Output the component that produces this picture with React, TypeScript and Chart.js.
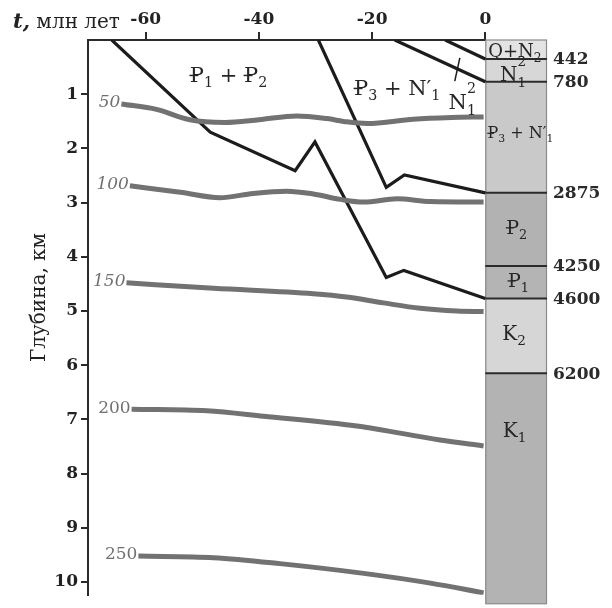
import React, { useEffect, useRef } from 'react';
import { Chart, registerables } from 'chart.js';
Chart.register(...registerables);

// ---- axes ----
const timeTicks = [-60, -40, -20, 0];
const depthTicks = [1, 2, 3, 4, 5, 6, 7, 8, 9, 10];

// ---- burial curves: time (Ma) / depth (km) ----
const burialTimeA = [-66, -48.6, -33.6, -30.1, -17.5, -14.4, 0];
const burialDepthA = [0, 1.7, 2.41, 1.88, 4.38, 4.25, 4.77];
const burialTimeB = [-29.5, -17.5, -14.3, 0];
const burialDepthB = [0, 2.72, 2.49, 2.82];
const burialTimeC = [-16, 0];
const burialDepthC = [0, 0.77];
const burialTimeD = [-7.1, 0];
const burialDepthD = [0, 0.35];
const markTime = [-4.5, -5.4];
const markDepth = [0.33, 0.76];

// ---- isotherms ----
const isoLabels = ['50', '100', '150', '200', '250'];
const iso50Time = [-64.3, -58.1, -52.2, -46, -40, -33.3, -28, -24.5, -20.9, -12.7, -6, -0.3];
const iso50Depth = [1.18, 1.28, 1.47, 1.52, 1.47, 1.4, 1.45, 1.51, 1.54, 1.46, 1.43, 1.42];
const iso100Time = [-62.8, -53.9, -46.9, -41, -35.1, -30.4, -25.6, -21.5, -15.6, -9.7, -0.3];
const iso100Depth = [2.69, 2.81, 2.91, 2.83, 2.79, 2.84, 2.94, 2.99, 2.93, 2.98, 2.99];
const iso150Time = [-63.4, -48, -30.4, -24.5, -18, -11.5, -5, -0.3];
const iso150Depth = [4.48, 4.58, 4.68, 4.74, 4.85, 4.95, 5.0, 5.01];
const iso200Time = [-62.5, -49.2, -39.2, -22.7, -8, -0.3];
const iso200Depth = [6.81, 6.84, 6.94, 7.12, 7.38, 7.49];
const iso250Time = [-61.3, -48, -36.3, -21.5, -9.7, -0.3];
const iso250Depth = [9.52, 9.55, 9.66, 9.84, 10.02, 10.2];

// ---- stratigraphic column ----
const stratTops = [0, 0.35, 0.77, 2.82, 4.17, 4.77, 6.15];
const stratBase = 10.4;
const stratColors = ['#e3e3e3', '#d7d7d7', '#c9c9c9', '#b2b2b2', '#b4b4b4', '#d6d6d6', '#b3b3b3'];
const boundaryLabels = ['442', '780', '2875', '4250', '4600', '6200'];

type Seg = { t: string; k?: 'sub' | 'sup'; bar?: boolean; stack?: boolean };

const plotLabels: { segs: Seg[]; t: number; d: number; size: number }[] = [
  { segs: [{ t: 'P', bar: true }, { t: '1', k: 'sub' }, { t: ' + ' }, { t: 'P', bar: true }, { t: '2', k: 'sub' }], t: -52.2, d: 0.77, size: 21 },
  { segs: [{ t: 'P', bar: true }, { t: '3', k: 'sub' }, { t: ' + N\u2032' }, { t: '1', k: 'sub' }], t: -23.2, d: 1.01, size: 21 },
  { segs: [{ t: 'N' }, { t: '2', k: 'sup', stack: true }, { t: '1', k: 'sub' }], t: -6.5, d: 1.27, size: 21 },
  { segs: [{ t: 'Q+N' }, { t: '2', k: 'sub' }], t: 0.5, d: 0.31, size: 18 },
  { segs: [{ t: 'N' }, { t: '2', k: 'sup', stack: true }, { t: '1', k: 'sub' }], t: 2.6, d: 0.76, size: 20 },
  { segs: [{ t: 'P', bar: true }, { t: '3', k: 'sub' }, { t: ' + N\u2032' }, { t: '1', k: 'sub' }], t: 0.4, d: 1.81, size: 16 },
  { segs: [{ t: 'P', bar: true }, { t: '2', k: 'sub' }], t: 3.7, d: 3.57, size: 19 },
  { segs: [{ t: 'P', bar: true }, { t: '1', k: 'sub' }], t: 4.0, d: 4.55, size: 19 },
  { segs: [{ t: 'K' }, { t: '2', k: 'sub' }], t: 3.0, d: 5.53, size: 20 },
  { segs: [{ t: 'K' }, { t: '1', k: 'sub' }], t: 3.1, d: 7.32, size: 20 },
];

const SERIF = '"DejaVu Serif", serif';

function pts(ts: number[], ds: number[]) {
  return ts.map((t, i) => ({ x: t, y: ds[i] }));
}

function drawRich(ctx: CanvasRenderingContext2D, x: number, y: number, segs: Seg[], size: number, color: string) {
  let cx = x;
  ctx.fillStyle = color;
  ctx.strokeStyle = color;
  ctx.textAlign = 'left';
  ctx.textBaseline = 'alphabetic';
  for (const s of segs) {
    let fs = size;
    let dy = 0;
    if (s.k === 'sub') { fs = size * 0.68; dy = size * 0.27; }
    if (s.k === 'sup') { fs = size * 0.68; dy = -size * 0.75; }
    ctx.font = `${fs}px ${SERIF}`;
    ctx.fillText(s.t, cx, y + dy);
    const w = ctx.measureText(s.t).width;
    if (s.bar) {
      ctx.lineWidth = Math.max(1.2, size * 0.07);
      ctx.beginPath();
      ctx.moveTo(cx - size * 0.02, y - size * 0.3);
      ctx.lineTo(cx + w * 0.6, y - size * 0.3);
      ctx.stroke();
    }
    if (!s.stack) cx += w;
  }
}

const decorPlugin = {
  id: 'decor',
  beforeDatasetsDraw(chart: any) {
    const { ctx, chartArea, scales } = chart;
    const xs = scales.x, ys = scales.y;
    const x0 = xs.getPixelForValue(0);
    const xr = chartArea.right;
    ctx.save();
    for (let i = 0; i < stratTops.length; i++) {
      const yt = ys.getPixelForValue(stratTops[i]);
      const yb = ys.getPixelForValue(i + 1 < stratTops.length ? stratTops[i + 1] : stratBase);
      ctx.fillStyle = stratColors[i];
      ctx.fillRect(x0, yt, xr - x0, yb - yt);
    }
    ctx.strokeStyle = '#8a8a8a';
    ctx.lineWidth = 1.2;
    const ytop = ys.getPixelForValue(0);
    const ybot = ys.getPixelForValue(stratBase);
    ctx.strokeRect(x0 + 0.5, ytop, xr - x0 - 1, ybot - ytop);
    ctx.strokeStyle = '#2b2b2b';
    ctx.lineWidth = 2;
    for (let i = 1; i < stratTops.length; i++) {
      const y = ys.getPixelForValue(stratTops[i]);
      ctx.beginPath();
      ctx.moveTo(x0, y);
      ctx.lineTo(xr, y);
      ctx.stroke();
    }
    ctx.strokeStyle = '#2b2b2b';
    ctx.lineWidth = 2;
    ctx.beginPath();
    ctx.moveTo(chartArea.left - 1, chartArea.top);
    ctx.lineTo(x0, chartArea.top);
    ctx.stroke();
    ctx.restore();
  },
  afterDatasetsDraw(chart: any) {
    const { ctx, chartArea, scales } = chart;
    const xs = scales.x, ys = scales.y;
    ctx.save();
    ctx.fillStyle = '#2a2a2a';
    ctx.font = `bold 17px ${SERIF}`;
    ctx.textAlign = 'left';
    ctx.textBaseline = 'middle';
    boundaryLabels.forEach((lab, i) => {
      ctx.fillText(lab, chartArea.right + 6, ys.getPixelForValue(stratTops[i + 1]) + 1);
    });
    const isoStarts = [
      [iso50Time[0], iso50Depth[0]],
      [iso100Time[0], iso100Depth[0]],
      [iso150Time[0], iso150Depth[0]],
      [iso200Time[0], iso200Depth[0]],
      [iso250Time[0], iso250Depth[0]],
    ];
    ctx.fillStyle = '#707070';
    ctx.textAlign = 'right';
    ctx.textBaseline = 'middle';
    isoLabels.forEach((lab, i) => {
      ctx.font = `${i < 3 ? 'italic ' : ''}17px ${SERIF}`;
      ctx.fillText(lab, xs.getPixelForValue(isoStarts[i][0]) - 1, ys.getPixelForValue(isoStarts[i][1]) - 1);
    });
    plotLabels.forEach((l) => {
      drawRich(ctx, xs.getPixelForValue(l.t), ys.getPixelForValue(l.d), l.segs, l.size, '#262626');
    });
    ctx.fillStyle = '#222';
    ctx.textAlign = 'left';
    ctx.textBaseline = 'alphabetic';
    ctx.font = `italic bold 21px ${SERIF}`;
    ctx.fillText('t,', 13, 28);
    const wt = ctx.measureText('t,').width;
    ctx.font = `20px ${SERIF}`;
    ctx.fillText(' млн лет', 13 + wt, 28);
    ctx.save();
    ctx.translate(40, (chartArea.top + chartArea.bottom) / 2 - 20);
    ctx.rotate(-Math.PI / 2);
    ctx.textAlign = 'center';
    ctx.textBaseline = 'middle';
    ctx.font = `20px ${SERIF}`;
    ctx.fillText('Глубина, км', 0, 0);
    ctx.restore();
    ctx.restore();
  },
};

export default function App() {
  const ref = useRef<HTMLCanvasElement | null>(null);
  useEffect(() => {
    if (!ref.current) return;
    const black = (data: any, w = 3.2) => ({
      data,
      borderColor: '#1c1c1c',
      borderWidth: w,
      pointRadius: 0,
      tension: 0,
      fill: false,
      borderJoinStyle: 'miter' as const,
    });
    const gray = (data: any) => ({
      data,
      borderColor: '#727272',
      borderWidth: 5,
      pointRadius: 0,
      cubicInterpolationMode: 'monotone' as const,
      fill: false,
      borderCapStyle: 'butt' as const,
    });
    const chart = new Chart(ref.current, {
      type: 'line',
      data: {
        datasets: [
          gray(pts(iso50Time, iso50Depth)),
          gray(pts(iso100Time, iso100Depth)),
          gray(pts(iso150Time, iso150Depth)),
          gray(pts(iso200Time, iso200Depth)),
          gray(pts(iso250Time, iso250Depth)),
          black(pts(burialTimeA, burialDepthA)),
          black(pts(burialTimeB, burialDepthB)),
          black(pts(burialTimeC, burialDepthC)),
          black(pts(burialTimeD, burialDepthD)),
          black(pts(markTime, markDepth), 1.5),
        ],
      },
      options: {
        animation: false,
        responsive: false,
        devicePixelRatio: 1,
        layout: { padding: { left: 0, top: 0, right: 65, bottom: 3 } },
        plugins: { legend: { display: false }, tooltip: { enabled: false } },
        scales: {
          x: {
            type: 'linear',
            position: 'top',
            min: -70.2,
            max: 10.9,
            afterBuildTicks: (s: any) => { s.ticks = timeTicks.map((v) => ({ value: v })); },
            afterFit: (s: any) => { s.height = 40; },
            grid: { drawOnChartArea: false, drawTicks: true, tickLength: 8, color: '#2b2b2b', lineWidth: 2 },
            border: { display: false },
            ticks: {
              padding: 2,
              color: '#222',
              font: { family: SERIF, size: 17, weight: 'bold' },
              callback: (v: any) => String(v),
            },
          },
          y: {
            type: 'linear',
            position: 'left',
            reverse: true,
            min: 0,
            max: 10.235,
            afterBuildTicks: (s: any) => { s.ticks = depthTicks.map((v) => ({ value: v })); },
            afterFit: (s: any) => { s.width = 88; },
            grid: { drawOnChartArea: false, drawTicks: true, tickLength: 7, color: '#2b2b2b', lineWidth: 2 },
            border: { display: true, color: '#2b2b2b', width: 2 },
            ticks: {
              padding: 3,
              color: '#222',
              font: { family: SERIF, size: 17, weight: 'bold' },
              callback: (v: any) => String(v),
            },
          },
        },
      },
      plugins: [decorPlugin],
    } as any);
    return () => chart.destroy();
  }, []);
  return (
    <div style={{ position: 'fixed', left: 0, top: 0, width: 612, height: 608, background: '#fff' }}>
      <canvas ref={ref} width={612} height={608} style={{ width: 612, height: 608, display: 'block' }} />
    </div>
  );
}
